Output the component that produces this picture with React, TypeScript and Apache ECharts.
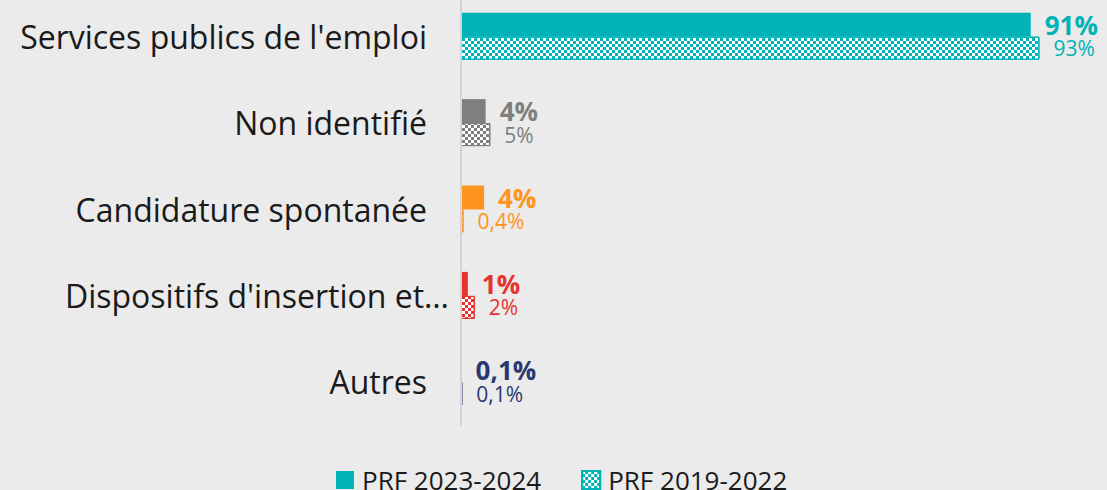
import React, { useEffect, useRef } from "react";
import * as echarts from "echarts";

const categories = [
  "Services publics de l'emploi",
  "Non identifié",
  "Candidature spontanée",
  "Dispositifs d'insertion et…",
  "Autres",
];
const seriesNames = ["PRF 2023-2024", "PRF 2019-2022"];
const values2023 = [91.3, 3.95, 3.7, 1.1, 0.1];
const values2019 = [92.7, 4.7, 0.4, 2.2, 0.1];
const colors = ["#00b3b6", "#7f7f7f", "#ff9421", "#e6332f", "#2b3870"];

const FONT = "Open Sans";

const fmt = (v: number) =>
  (v < 1 ? v.toFixed(1).replace(".", ",") : String(Math.round(v))) + "%";

const decalFor = (c: string) => ({
  symbol: "rect",
  symbolSize: 1,
  color: c,
  dashArrayX: [
    [2.7, 2.7],
    [0, 2.7, 2.7, 0],
  ],
  dashArrayY: [2.7, 0],
  rotation: 0,
});

export default function App() {
  const ref = useRef<HTMLDivElement>(null);
  useEffect(() => {
    if (!ref.current) return;
    const chart = echarts.init(ref.current, null, { renderer: "svg" });
    chart.setOption({
      animation: false,
      backgroundColor: "#ebebeb",
      grid: { left: 461, right: 22, top: 0, height: 432 },
      legend: {
        data: seriesNames,
        left: 331,
        top: 469,
        itemWidth: 18,
        itemHeight: 18,
        itemGap: 40,
        icon: "rect",
        textStyle: {
          fontFamily: FONT,
          fontSize: 26,
          color: "#1a1a1a",
          padding: [0, 0, 0, 3],
        },
      },
      xAxis: {
        type: "value",
        min: 0,
        max: 100,
        show: false,
      },
      yAxis: {
        type: "category",
        inverse: true,
        z: 3,
        data: categories.map((c, i) =>
          i === 3
            ? { value: c, textStyle: { padding: [0, -22, 0, 0] } }
            : c
        ),
        axisLine: { show: true, lineStyle: { color: "#d4d4d4", width: 2 } },
        axisTick: { show: false },
        axisLabel: {
          fontFamily: FONT,
          fontSize: 32,
          color: "#1a1a1a",
          margin: 34,
        },
      },
      series: [
        {
          name: seriesNames[0],
          type: "bar",
          barWidth: 24,
          barGap: 0,
          itemStyle: { color: colors[0] },
          data: values2023.map((v, i) => ({
            value: v,
            itemStyle: { color: colors[i] },
            label: { color: colors[i] },
          })),
          label: {
            show: true,
            position: "right",
            distance: 14,
            fontFamily: FONT,
            fontSize: 26,
            fontWeight: "bold",
            formatter: (p: any) => fmt(p.value),
          },
        },
        {
          name: seriesNames[1],
          type: "bar",
          barWidth: 23,
          barGap: 0,
          itemStyle: {
            color: "#ffffff",
            borderColor: colors[0],
            borderWidth: 1,
            decal: decalFor(colors[0]),
          },
          data: values2019.map((v, i) => ({
            value: v,
            itemStyle: {
              color: "#ffffff",
              borderColor: colors[i],
              borderWidth: i === 4 ? 2 : 1,
              decal: decalFor(colors[i]),
            },
            label: { color: colors[i] },
          })),
          label: {
            show: true,
            position: "right",
            distance: 14,
            fontFamily: FONT,
            fontSize: 21,
            formatter: (p: any) => fmt(p.value),
          },
        },
      ],
    });
    return () => chart.dispose();
  }, []);
  return (
    <div
      ref={ref}
      style={{
        position: "absolute",
        left: 0,
        top: -7,
        width: 1107,
        height: 497,
      }}
    />
  );
}
